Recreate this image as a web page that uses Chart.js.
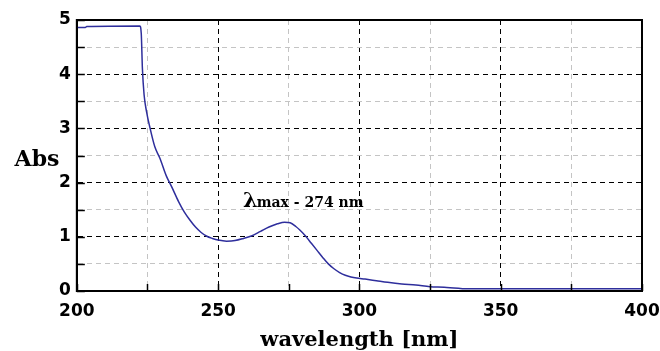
<!DOCTYPE html>
<html><head><meta charset="utf-8">
<script src="https://cdn.jsdelivr.net/npm/chart.js@4/dist/chart.umd.min.js"></script>
<style>html,body{margin:0;padding:0;background:#fff;overflow:hidden}</style>
</head><body>
<canvas id="c" width="660" height="351"></canvas>
<script>
const wavelengths = [200, 203, 203.5, 222.3, 222.8, 223.2, 223.8, 224.7, 225.8, 227.6, 229.4, 231.7, 233.5, 236, 238, 240, 242, 244, 246, 248, 250, 253, 256, 259, 262, 265, 268, 271, 273.5, 275.5, 277.5, 279, 281, 283, 285, 287, 289, 291, 293, 295, 297, 299, 302, 306, 310, 315, 320, 325, 330, 335, 337, 400];
const absorbance  = [4.86, 4.86, 4.88, 4.89, 4.75, 4.11, 3.62, 3.30, 3.03, 2.66, 2.45, 2.12, 1.93, 1.65, 1.46, 1.31, 1.18, 1.08, 1.01, 0.97, 0.94, 0.92, 0.93, 0.97, 1.02, 1.10, 1.18, 1.24, 1.27, 1.26, 1.19, 1.12, 1.01, 0.88, 0.75, 0.62, 0.50, 0.41, 0.34, 0.29, 0.26, 0.24, 0.22, 0.19, 0.16, 0.13, 0.11, 0.08, 0.07, 0.05, 0.04, 0.04];
const xTickLabels = [200, 250, 300, 350, 400];
const yTickLabels = [0, 1, 2, 3, 4, 5];
const xTitle = 'wavelength [nm]';
const yTitle = 'Abs';
const peakSymbol = 'λ';
const peakText = 'max - 274 nm';

const frame = {
  id: 'frame',
  afterDraw(chart) {
    const {ctx, chartArea: a, scales: {x, y}} = chart;
    ctx.save();
    ctx.setLineDash([]);
    ctx.strokeStyle = '#000';
    ctx.lineWidth = 1.5;
    y.ticks.forEach(t => {
      const py = Math.round(y.getPixelForValue(t.value)) + 0.5;
      ctx.beginPath(); ctx.moveTo(a.left, py); ctx.lineTo(a.left + 8, py); ctx.stroke();
    });
    x.ticks.forEach(t => {
      const px = Math.round(x.getPixelForValue(t.value)) + 0.5;
      ctx.beginPath(); ctx.moveTo(px, a.bottom); ctx.lineTo(px, a.bottom - 7); ctx.stroke();
    });
    ctx.lineWidth = 2;
    ctx.strokeRect(a.left, a.top, a.right - a.left, a.bottom - a.top);
    ctx.fillStyle = '#000';
    ctx.font = 'bold 22px "DejaVu Serif"';
    ctx.textAlign = 'center';
    ctx.textBaseline = 'middle';
    ctx.fillText(yTitle, 37, (a.top + a.bottom) / 2 + 5);
    const ax = x.getPixelForValue(258.8), ay = y.getPixelForValue(1.55);
    ctx.textAlign = 'left';
    ctx.textBaseline = 'alphabetic';
    ctx.font = 'bold 21px "DejaVu Serif"';
    ctx.fillText(peakSymbol, ax, ay);
    const w = ctx.measureText(peakSymbol).width;
    ctx.font = 'bold 14px "DejaVu Serif"';
    ctx.fillText(peakText, ax + w - 1, ay);
    ctx.restore();
  }
};

new Chart(document.getElementById('c'), {
  type: 'line',
  data: {
    datasets: [{
      data: wavelengths.map((w, i) => ({x: w, y: absorbance[i]})),
      borderColor: '#2e2e9c',
      borderWidth: 1.5,
      pointRadius: 0,
      cubicInterpolationMode: 'monotone',
      fill: false
    }]
  },
  options: {
    responsive: false,
    animation: false,
    devicePixelRatio: 1,
    layout: {padding: {left: 53, right: 0, top: 20, bottom: 0}},
    plugins: {legend: {display: false}, tooltip: {enabled: false}},
    scales: {
      x: {
        type: 'linear', min: 200, max: 400,
        afterFit: s => { s.height = 60; s.paddingRight = 18; s.paddingLeft = 0; },
        ticks: {stepSize: 25, padding: 10, color: '#000', maxRotation: 0, autoSkip: false,
          font: {family: '"DejaVu Sans"', weight: 'bold', size: 17},
          callback: v => xTickLabels.includes(v) ? String(v) : ''},
        grid: {drawTicks: false, lineWidth: 1,
          color: c => xTickLabels.includes(c.tick.value) ? '#000' : '#c4c4c4'},
        border: {display: true, color: '#000', width: 2, dash: [5, 4]},
        title: {display: true, text: xTitle, color: '#000', padding: {top: 0, bottom: -2},
          font: {family: '"DejaVu Serif"', weight: 'bold', size: 21}}
      },
      y: {
        min: 0, max: 5,
        ticks: {stepSize: 0.5, padding: 6, color: '#000', autoSkip: false,
          font: {family: '"DejaVu Sans"', weight: 'bold', size: 17},
          callback: v => yTickLabels.includes(v) ? String(v) : ''},
        grid: {drawTicks: false, lineWidth: 1,
          color: c => yTickLabels.includes(c.tick.value) ? '#000' : '#c4c4c4'},
        border: {display: true, color: '#000', width: 2, dash: [5, 4]}
      }
    }
  },
  plugins: [frame]
});
</script>
</body></html>
